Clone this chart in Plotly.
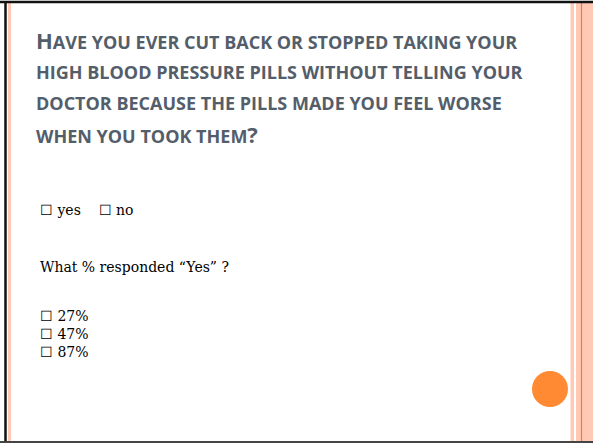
import plotly.graph_objects as go

# ---- slide content ----
title_lines = [
    "Have you ever cut back or stopped taking your",
    "high blood pressure pills without telling your",
    "doctor because the pills made you feel worse",
    "when you took them?",
]
answer_choices = ["yes", "no"]
question = "What % responded \u201cYes\u201d ?"
percent_options = ["27%", "47%", "87%"]

W, H = 593, 444
TITLE_COLOR = "#545E6B"
ORANGE = "#FF8A33"
PINK = "#FFC9B5"
SMALL, LARGE = 18, 22


def small_caps(s):
    out = []
    for ch in s:
        if ch.isupper() or ch == "?":
            out.append(f'<span style="font-size:{LARGE}px">{ch}</span>')
        else:
            out.append(ch.upper())
    return "".join(out)


fig = go.Figure()

title_y = [40, 72, 103, 134]
for line, y in zip(title_lines, title_y):
    fig.add_annotation(
        x=34, y=y, text=small_caps(line), showarrow=False, xanchor="left", yanchor="middle",
        font=dict(family="Open Sans", size=SMALL, color=TITLE_COLOR, weight="bold"),
    )

body_font = dict(family="DejaVu Serif", size=14, color="#000000")
box = "\u2610"
nb = "\u00a0"
yes_no = (nb * 4).join(f"{box} {c}" for c in answer_choices)
fig.add_annotation(x=38, y=210, text=yes_no, showarrow=False, xanchor="left",
                   yanchor="middle", font=body_font)
fig.add_annotation(x=38, y=267, text=question, showarrow=False, xanchor="left",
                   yanchor="middle", font=body_font)
for i, p in enumerate(percent_options):
    fig.add_annotation(x=38, y=316 + i * 18, text=f"{box} {p}", showarrow=False,
                       xanchor="left", yanchor="middle", font=body_font)

shapes = []
shapes.append(dict(type="rect", x0=8, x1=11, y0=3, y1=441, fillcolor=PINK, line_width=0, layer="below"))
shapes.append(dict(type="rect", x0=570.5, x1=574, y0=3, y1=441, fillcolor=PINK, line_width=0, layer="below"))
shapes.append(dict(type="rect", x0=576, x1=593, y0=3, y1=441, fillcolor=PINK, line_width=0, layer="below"))
shapes.append(dict(type="line", x0=581.5, x1=581.5, y0=3, y1=441, line=dict(color="#F07A3A", width=1.2)))
shapes.append(dict(type="line", x0=0, x1=593, y0=2, y1=2, line=dict(color="#111111", width=2.5)))
shapes.append(dict(type="line", x0=5.5, x1=5.5, y0=2, y1=442, line=dict(color="#111111", width=2.5)))
shapes.append(dict(type="line", x0=0, x1=593, y0=442, y1=442, line=dict(color="#444444", width=2)))
shapes.append(dict(type="circle", x0=532, x1=568, y0=371, y1=407, fillcolor=ORANGE, line_width=0))

fig.update_layout(
    width=W, height=H, margin=dict(l=0, r=0, t=0, b=0),
    paper_bgcolor="white", plot_bgcolor="white",
    xaxis=dict(range=[0, W], visible=False, fixedrange=True),
    yaxis=dict(range=[H, 0], visible=False, fixedrange=True),
    shapes=shapes, showlegend=False,
)
fig.write_html("out.html", post_script="document.body.style.margin='0px';",
               config={"displayModeBar": False})
